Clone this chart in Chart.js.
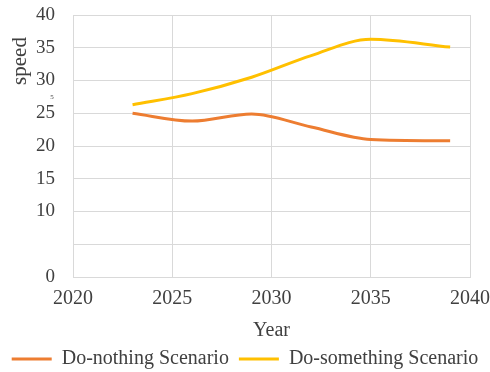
<!DOCTYPE html>
<html>
<head>
<meta charset="utf-8">
<script src="https://cdn.jsdelivr.net/npm/chart.js@4"></script>
<style>
  html, body { margin: 0; padding: 0; background: #fff; }
  #wrap { width: 490px; height: 372px; }
</style>
</head>
<body>
<div id="wrap"><canvas id="speed-chart"></canvas></div>
<script>
// projected speed per scenario
const years = [2023, 2026, 2029, 2032, 2035, 2039];
const doNothing = [25.0, 23.8, 24.9, 22.9, 21.0, 20.8];
const doSomething = [26.3, 28.0, 30.5, 33.8, 36.3, 35.1];
const seriesNames = ['Do-nothing Scenario', 'Do-something Scenario'];
const xTicks = [2020, 2025, 2030, 2035, 2040];
const yTicks = [0, 5, 10, 15, 20, 25, 30, 35, 40];

const serifFont = "'Liberation Serif'";
const textColor = '#404040';
const gridColor = '#d9d9d9';

// y title sits up near the top, drawn by hand
const sideLabels = {
  id: 'sideLabels',
  afterDraw(chart) {
    const c = chart.ctx;
    c.save();
    c.fillStyle = textColor;
    c.font = '21px ' + serifFont;
    c.textAlign = 'center';
    c.textBaseline = 'middle';
    c.translate(20, 61);
    c.rotate(-Math.PI / 2);
    c.fillText('speed', 0, 0);
    c.restore();

    // stray small "5" beside the axis
    c.save();
    c.fillStyle = textColor;
    c.font = '7px ' + serifFont;
    c.textAlign = 'center';
    c.textBaseline = 'middle';
    c.fillText('5', 52, 97);
    c.restore();
  }
};

// keep the legend block a fixed height under the axis title
const legendHeight = {
  id: 'legendHeight',
  beforeInit(chart) {
    const fit = chart.legend.fit;
    chart.legend.fit = function () {
      fit.call(this);
      this.height = 33;
    };
  }
};

const ctx = document.getElementById('speed-chart').getContext('2d');

new Chart(ctx, {
  type: 'line',
  data: {
    datasets: [
      {
        label: seriesNames[0],
        data: years.map((y, i) => ({ x: y, y: doNothing[i] })),
        borderColor: '#ED7D31',
        backgroundColor: '#ED7D31',
        borderWidth: 3,
        pointRadius: 0,
        cubicInterpolationMode: 'monotone'
      },
      {
        label: seriesNames[1],
        data: years.map((y, i) => ({ x: y, y: doSomething[i] })),
        borderColor: '#FFC000',
        backgroundColor: '#FFC000',
        borderWidth: 3,
        pointRadius: 0,
        cubicInterpolationMode: 'monotone'
      }
    ]
  },
  options: {
    responsive: true,
    maintainAspectRatio: false,
    animation: false,
    layout: { padding: { top: 15, right: 0, left: 0, bottom: 0 } },
    plugins: {
      tooltip: { enabled: false },
      legend: {
        position: 'bottom',
        labels: {
          font: { family: serifFont, size: 20 },
          color: textColor,
          usePointStyle: true,
          pointStyle: 'line',
          pointStyleWidth: 40,
          boxHeight: 3,
          padding: 10
        }
      }
    },
    scales: {
      x: {
        type: 'linear',
        min: 2020,
        max: 2040,
        afterBuildTicks: scale => { scale.ticks = xTicks.map(v => ({ value: v })); },
        afterFit: scale => {
          scale.height = 62;
          scale.paddingLeft = 0;
          scale.paddingRight = 20;
        },
        grid: { color: gridColor, drawTicks: false },
        border: { color: gridColor },
        ticks: {
          font: { family: serifFont, size: 20 },
          color: textColor,
          padding: 10,
          maxRotation: 0,
          callback: v => String(v)
        },
        title: {
          display: true,
          text: 'Year',
          font: { family: serifFont, size: 20 },
          color: textColor,
          padding: { top: 0, bottom: -4 }
        }
      },
      y: {
        min: 0,
        max: 40,
        afterBuildTicks: scale => { scale.ticks = yTicks.map(v => ({ value: v })); },
        afterFit: scale => {
          scale.width = 73;
          scale.paddingTop = 10;
          scale.paddingBottom = 10;
        },
        grid: { color: gridColor, drawTicks: false },
        border: { color: gridColor },
        ticks: {
          font: { family: serifFont, size: 19 },
          color: textColor,
          padding: 18,
          callback: v => (v === 5 ? '' : String(v))
        }
      }
    }
  },
  plugins: [sideLabels, legendHeight]
});
</script>
</body>
</html>
